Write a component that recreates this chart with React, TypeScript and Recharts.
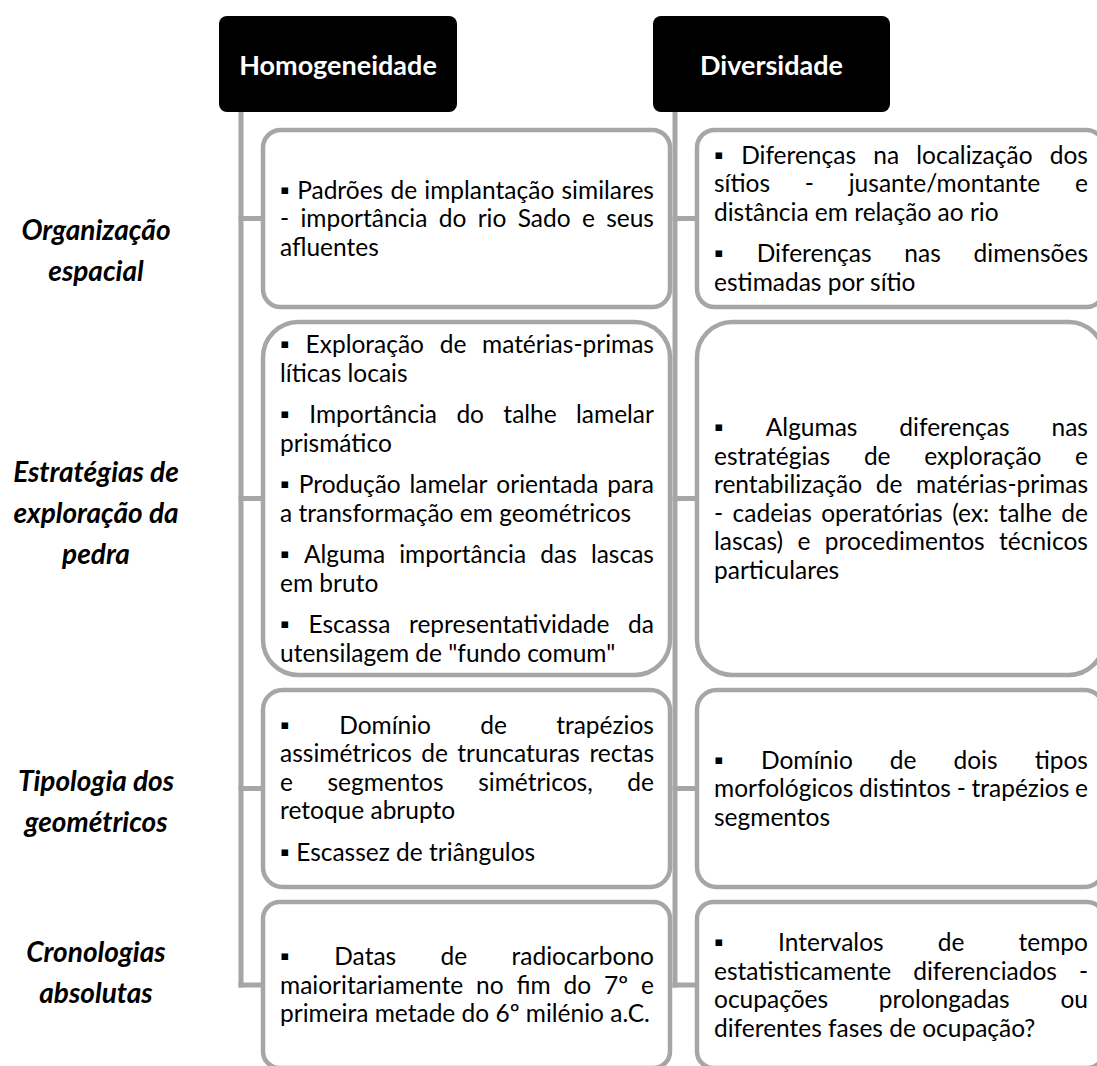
import {
  ComposedChart,
  XAxis,
  YAxis,
  Scatter,
  ReferenceArea,
  ReferenceLine,
} from "recharts";

// ---- content ----
const columnTitles = ["Homogeneidade", "Diversidade"];

const rowLabels = [
  ["Organização", "espacial"],
  ["Estratégias de", "exploração da", "pedra"],
  ["Tipologia dos", "geométricos"],
  ["Cronologias", "absolutas"],
];

// each box: paragraphs -> lines (line breaks as in the original)
const homogeneity = [
  [["▪ Padrões de implantação similares", "- importância do rio Sado e seus", "afluentes"]],
  [
    ["▪ Exploração de matérias-primas", "líticas locais"],
    ["▪ Importância do talhe lamelar", "prismático"],
    ["▪ Produção lamelar orientada para", "a transformação em geométricos"],
    ["▪ Alguma importância das lascas", "em bruto"],
    ["▪ Escassa representatividade da", 'utensilagem de "fundo comum"'],
  ],
  [
    ["▪ Domínio de trapézios", "assimétricos de truncaturas rectas", "e segmentos simétricos, de", "retoque abrupto"],
    ["▪ Escassez de triângulos"],
  ],
  [["▪ Datas de radiocarbono", "maioritariamente no fim do 7º e", "primeira metade do 6º milénio a.C."]],
];

const diversity = [
  [
    ["▪ Diferenças na localização dos", "sítios - jusante/montante e", "distância em relação ao rio"],
    ["▪ Diferenças nas dimensões", "estimadas por sítio"],
  ],
  [
    [
      "▪ Algumas diferenças nas",
      "estratégias de exploração e",
      "rentabilização de matérias-primas",
      "- cadeias operatórias (ex: talhe de",
      "lascas) e procedimentos técnicos",
      "particulares",
    ],
  ],
  [["▪ Domínio de dois tipos", "morfológicos distintos - trapézios e", "segmentos"]],
  [["▪ Intervalos de tempo", "estatisticamente diferenciados -", "ocupações prolongadas ou", "diferentes fases de ocupação?"]],
];

// ---- layout ----
const W = 1097;
const H = 1066;
const rowTops = [130, 322, 690, 902];
const rowBottoms = [307, 675, 887, 1068];
const rowMid = rowTops.map((t, i) => (t + rowBottoms[i]) / 2);
const labelMid = [249, 512, 800, 971];
const LABEL_X = 96;
const HEAD_Y: [number, number] = [16, 112];
const columns = [
  { head: [219, 457], line: 241, box: [263, 670], boxes: homogeneity },
  { head: [653, 890], line: 675, box: [697, 1104], boxes: diversity },
];
const GRAY = "#a6a6a6";
const FONT = "Lato, 'Open Sans', sans-serif";

const labelPoints = rowLabels.map((lines, i) => ({ x: LABEL_X, y: labelMid[i], lines }));

// justified line: words spread edge to edge
function Line({ text, justify }: { text: string; justify: boolean }) {
  if (!justify) return <div style={{ whiteSpace: "nowrap" }}>{text}</div>;
  const words = text.split(" ");
  return (
    <div style={{ display: "flex", justifyContent: "space-between", whiteSpace: "nowrap" }}>
      {words.map((w, i) => (
        <span key={i}>{w}</span>
      ))}
    </div>
  );
}

function TextBox(props: any) {
  const { x, y, width, height, paragraphs } = props;
  const r = Math.min(width, height) * 0.1;
  return (
    <g>
      <rect x={x} y={y} width={width} height={height} rx={r} ry={r} fill="#fff" stroke={GRAY} strokeWidth={4.5} />
      <foreignObject x={x} y={y} width={width} height={height}>
        <div
          style={{
            width,
            height,
            boxSizing: "border-box",
            padding: "0 16px 0 17px",
            display: "flex",
            flexDirection: "column",
            justifyContent: "center",
            fontFamily: FONT,
            fontSize: 24.5,
            lineHeight: "28.5px",
            color: "#000",
          }}
        >
          {paragraphs.map((lines: string[], pi: number) => (
            <div key={pi} style={{ marginTop: pi ? 13 : 0 }}>
              {lines.map((ln, li) => (
                <Line key={li} text={ln} justify={li < lines.length - 1} />
              ))}
            </div>
          ))}
        </div>
      </foreignObject>
    </g>
  );
}

function Header(props: any) {
  const { x, y, width, height, title } = props;
  return (
    <g>
      <rect x={x} y={y} width={width} height={height} rx={8} ry={8} fill="#000" />
      <text
        x={x + width / 2}
        y={y + height / 2}
        textAnchor="middle"
        dominantBaseline="central"
        fill="#fff"
        fontFamily={FONT}
        fontWeight="bold"
        fontSize={27}
      >
        {title}
      </text>
    </g>
  );
}

function RowLabel(props: any) {
  const { cx, cy, payload } = props;
  const n = payload.lines.length;
  return (
    <text textAnchor="middle" fontFamily={FONT} fontWeight="bold" fontStyle="italic" fontSize={28} fill="#000">
      {payload.lines.map((l: string, i: number) => (
        <tspan key={i} x={cx} y={cy + (i - (n - 1) / 2) * 41} dominantBaseline="central">
          {l}
        </tspan>
      ))}
    </text>
  );
}

export default function App() {
  return (
    <div style={{ position: "absolute", left: 0, top: 0, width: W, height: H, background: "#fff" }}>
      <ComposedChart width={W} height={H} data={labelPoints} margin={{ top: 0, right: 0, bottom: 0, left: 0 }}>
        <XAxis type="number" dataKey="x" domain={[0, W]} allowDataOverflow hide />
        <YAxis type="number" dataKey="y" domain={[0, H]} allowDataOverflow reversed hide />

        {columns.map((c, ci) => (
          <ReferenceLine
            key={`v${ci}`}
            segment={[{ x: c.line, y: HEAD_Y[1] }, { x: c.line, y: rowMid[3] + 2.5 }]}
            stroke={GRAY}
            strokeWidth={5}
            ifOverflow="visible"
          />
        ))}
        {columns.map((c, ci) =>
          rowMid.map((m, ri) => (
            <ReferenceLine
              key={`h${ci}-${ri}`}
              segment={[{ x: c.line - 2.5, y: m }, { x: c.box[0], y: m }]}
              stroke={GRAY}
              strokeWidth={5}
              ifOverflow="visible"
            />
          ))
        )}

        {columns.map((c, ci) => (
          <ReferenceArea
            key={`head${ci}`}
            x1={c.head[0]}
            x2={c.head[1]}
            y1={HEAD_Y[0]}
            y2={HEAD_Y[1]}
            ifOverflow="visible"
            shape={(p: any) => <Header {...p} title={columnTitles[ci]} />}
          />
        ))}

        {columns.map((c, ci) =>
          c.boxes.map((paragraphs, ri) => (
            <ReferenceArea
              key={`box${ci}-${ri}`}
              x1={c.box[0]}
              x2={c.box[1]}
              y1={rowTops[ri]}
              y2={rowBottoms[ri]}
              ifOverflow="visible"
              shape={(p: any) => <TextBox {...p} paragraphs={paragraphs} />}
            />
          ))
        )}

        <Scatter dataKey="y" isAnimationActive={false} shape={(p: any) => <RowLabel {...p} />} />
      </ComposedChart>
    </div>
  );
}
